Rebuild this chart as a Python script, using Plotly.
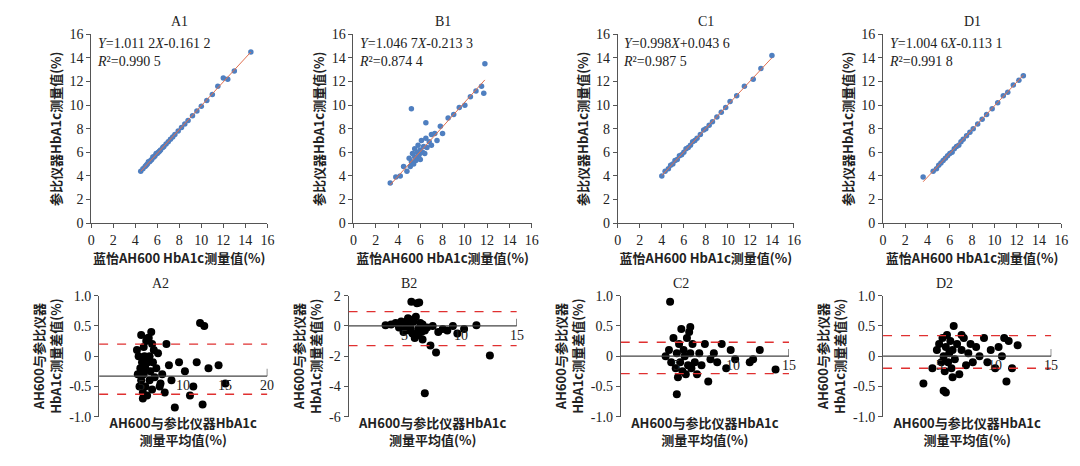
import plotly.graph_objects as go

# ---------------- data ----------------
titles_top = ["A1", "B1", "C1", "D1"]
titles_bot = ["A2", "B2", "C2", "D2"]
eq_text = ["<i>Y</i>=1.011 2<i>X</i>-0.161 2", "<i>Y</i>=1.046 7<i>X</i>-0.213 3",
           "<i>Y</i>=0.998<i>X</i>+0.043 6", "<i>Y</i>=1.004 6<i>X</i>-0.113 1"]
r2_text = ["<i>R</i>²=0.990 5", "<i>R</i>²=0.874 4", "<i>R</i>²=0.987 5", "<i>R</i>²=0.991 8"]
slopes = [1.0112, 1.0467, 0.998, 1.0046]
intercepts = [-0.1612, -0.2133, 0.0436, -0.1131]

a1_x = [4.5,4.7,4.9,5.0,5.1,5.2,5.3,5.4,5.5,5.6,5.7,5.8,5.9,6.0,6.1,6.2,6.3,6.5,6.6,6.8,7.0,7.2,7.4,7.6,7.9,8.2,8.5,8.8,9.2,9.6,10.0,10.5,11.0,11.5,12.0,12.4,13.0,14.5]
a1_y = [4.4,4.6,4.8,4.9,5.0,5.2,5.2,5.3,5.4,5.6,5.6,5.7,5.9,5.9,6.0,6.1,6.2,6.4,6.5,6.7,6.9,7.1,7.3,7.5,7.8,8.1,8.4,8.7,9.1,9.5,9.9,10.4,10.9,11.6,12.3,12.2,12.9,14.5]
b1_x = [3.3,3.8,4.2,4.5,4.8,5.0,5.1,5.2,5.3,5.4,5.5,5.5,5.6,5.7,5.8,5.8,5.9,6.0,6.0,6.1,6.2,6.3,6.4,6.5,6.6,6.8,7.0,7.0,7.3,7.5,7.8,8.0,8.5,9.0,9.5,10.0,10.5,11.0,11.5,11.8,5.2,6.5,11.7]
b1_y = [3.4,3.9,4.0,4.8,4.4,5.5,4.8,5.2,5.9,5.0,5.6,6.3,5.3,6.0,5.5,6.6,5.8,6.2,5.4,7.0,6.0,6.5,5.9,7.2,6.4,6.9,7.5,6.6,7.6,7.0,8.2,7.6,8.9,9.2,9.8,10.0,10.7,11.2,11.6,13.5,9.7,8.5,11.0]
c1_x = [4.0,4.3,4.6,4.8,5.0,5.2,5.4,5.6,5.8,6.0,6.2,6.4,6.6,6.8,7.0,7.2,7.5,7.8,8.0,8.3,8.6,9.0,9.4,9.8,10.2,10.8,11.5,12.3,13.0,14.0]
c1_y = [4.0,4.4,4.6,4.9,5.0,5.3,5.4,5.7,5.8,6.0,6.3,6.4,6.6,6.9,7.0,7.2,7.5,7.9,8.0,8.3,8.6,9.0,9.4,9.8,10.3,10.8,11.6,12.2,13.1,14.2]
d1_x = [3.6,4.5,4.8,5.0,5.2,5.4,5.6,5.8,6.0,6.2,6.4,6.6,6.8,7.0,7.2,7.5,7.8,8.1,8.5,8.9,9.3,9.8,10.3,10.8,11.2,11.7,12.2,12.6]
d1_y = [3.9,4.4,4.6,4.9,5.1,5.3,5.5,5.7,5.9,6.0,6.3,6.5,6.6,6.9,7.1,7.4,7.7,8.0,8.4,8.8,9.2,9.7,10.2,10.8,11.1,11.7,12.1,12.5]
top_x = [a1_x, b1_x, c1_x, d1_x]
top_y = [a1_y, b1_y, c1_y, d1_y]

a2_x = [4.5,4.6,4.7,4.8,4.9,5.0,5.0,5.1,5.2,5.3,5.3,5.4,5.5,5.5,5.6,5.7,5.8,5.9,6.0,6.0,6.1,6.2,6.3,6.4,6.5,6.6,6.8,7.0,7.2,7.5,7.8,8.0,8.3,8.6,9.0,9.5,10.2,10.8,11.2,11.6,12.0,12.3,12.5,13.0,14.2,15.0,5.2,5.8,6.3,7.3]
a2_y = [0.1,-0.3,0.0,-0.5,-0.2,0.35,-0.4,-0.1,-0.6,0.15,-0.3,0.0,-0.5,-0.2,0.25,-0.65,-0.1,0.3,-0.4,0.0,-0.25,0.4,-0.55,-0.1,0.1,-0.35,-0.2,0.05,-0.5,-0.3,-0.6,0.2,-0.15,-0.4,-0.85,-0.1,-0.25,-0.65,-0.5,-0.1,0.55,-0.8,0.5,-0.2,-0.15,-0.45,-0.7,0.3,0.2,-0.45]
b2_x = [3.3,3.8,4.2,4.5,4.7,4.9,5.0,5.1,5.2,5.3,5.4,5.5,5.6,5.7,5.8,5.9,6.0,6.1,6.2,6.3,6.4,6.5,6.6,6.8,7.0,7.3,7.5,7.8,8.0,8.4,8.8,9.3,9.7,10.3,11.4,12.6,6.8,5.6,6.2,6.6,5.2,5.5]
b2_y = [0.05,0.1,0.2,-0.1,0.3,-0.4,0.2,-0.2,0.1,0.5,-0.3,0.0,1.6,-0.5,0.3,-0.8,0.6,1.5,-0.2,1.55,0.2,-0.4,0.1,-0.3,-0.1,-1.3,0.0,-1.75,-0.4,-0.2,-0.3,0.0,-0.5,-0.2,0.05,-1.95,-4.45,0.4,-0.6,-0.9,0.0,-0.2]
c2_x = [4.0,4.3,4.5,4.7,4.9,5.0,5.1,5.2,5.3,5.4,5.5,5.6,5.7,5.8,5.9,6.0,6.1,6.2,6.3,6.4,6.6,6.8,7.0,7.2,7.5,7.8,8.0,8.3,8.6,9.0,9.4,9.8,10.2,11.5,11.8,12.4,13.8,4.4,5.0,6.2]
c2_y = [0.0,0.1,-0.1,0.3,-0.2,0.05,-0.35,0.2,-0.1,0.45,-0.25,0.1,0.0,-0.3,0.3,-0.15,0.4,0.05,-0.2,0.2,-0.1,-0.3,0.05,-0.15,0.2,-0.42,-0.05,0.05,-0.1,0.2,-0.2,0.1,-0.05,-0.1,-0.05,0.1,-0.22,0.9,-0.63,0.48]
d2_x = [3.6,4.4,4.8,5.0,5.2,5.3,5.4,5.5,5.6,5.7,5.8,5.9,6.0,6.1,6.2,6.3,6.4,6.6,6.8,7.0,7.2,7.4,7.6,7.8,8.0,8.3,8.6,9.0,9.3,9.6,10.0,10.3,10.6,10.8,11.0,11.2,11.5,12.0,5.4,5.6,6.2,7.0]
d2_y = [-0.45,-0.2,0.1,0.2,-0.1,0.3,0.0,-0.25,0.15,0.35,-0.1,0.05,0.25,-0.2,0.1,0.5,-0.05,0.2,-0.3,0.1,0.3,-0.15,0.05,0.2,-0.1,0.15,0.0,0.3,-0.1,0.1,-0.2,0.15,0.0,0.3,-0.42,0.25,-0.2,0.18,-0.57,-0.6,-0.35,0.35]
bot_x = [a2_x, b2_x, c2_x, d2_x]
bot_y = [a2_y, b2_y, c2_y, d2_y]
bot_mean = [-0.33, 0.0, 0.0, 0.0]
bot_upper = [0.2, 0.95, 0.23, 0.34]
bot_lower = [-0.63, -1.3, -0.29, -0.2]
bot_xmax = [20, 15, 15, 15]
bot_xticks = [[5, 10, 15, 20], [5, 10, 15], [5, 10, 15], [5, 10, 15]]
bot_yrange = [[-1, 1], [-6, 2], [-1, 1], [-1, 1]]
bot_ydtick = [0.5, 2, 0.5, 0.5]
bot_yticktext = [["-1.0", "-0.5", "0", "0.5", "1.0"], ["-6", "-4", "-2", "0", "2"],
                 ["-1.0", "-0.5", "0", "0.5", "1.0"], ["-1.0", "-0.5", "0", "0.5", "1.0"]]

# ---------------- layout ----------------
W, H = 1080, 466
top_px = [(80, 258), (345, 525), (612, 790), (880, 1060)]
bot_px = [(88, 258), (340, 510), (615, 785), (880, 1050)]
top_dom_y = [1 - 215 / H, 1 - 20 / H]
bot_dom_y = [1 - 415 / H, 1 - 290 / H]
tick_font = dict(family="Liberation Serif", size=14, color="#222")
cjk = dict(family="Noto Sans CJK SC", size=13, color="#222")
BLUE = "#4f7fc0"

fig = go.Figure()
layout = dict(width=W, height=H, margin=dict(l=0, r=0, t=0, b=0),
              paper_bgcolor="white", plot_bgcolor="white", showlegend=False)
annotations, shapes = [], []

for i in range(4):
    n = i + 1
    xa, ya = f"xaxis{n}", f"yaxis{n}"
    xr, yr = ("x" if n == 1 else f"x{n}"), ("y" if n == 1 else f"y{n}")
    fig.add_trace(go.Scatter(x=top_x[i], y=top_y[i], mode="markers", xaxis=xr, yaxis=yr,
                             marker=dict(color=BLUE, size=5.5)))
    lx = [min(top_x[i]), max(top_x[i])]
    fig.add_trace(go.Scatter(x=lx, y=[slopes[i] * v + intercepts[i] for v in lx], mode="lines",
                             xaxis=xr, yaxis=yr, line=dict(color="#e07050", width=1)))
    ax = dict(showline=True, linecolor="#555", ticks="outside", ticklen=4, tickcolor="#555",
              showgrid=False, zeroline=False, tickfont=tick_font, range=[0, 16], dtick=2)
    layout[xa] = dict(ax, domain=[top_px[i][0] / W, top_px[i][1] / W], anchor=yr,
                      title=dict(text="<b>蓝怡AH600 HbA1c测量值(%)</b>", font=cjk, standoff=6))
    layout[ya] = dict(ax, domain=top_dom_y, anchor=xr,
                      title=dict(text="<b>参比仪器HbA1c测量值(%)</b>", font=cjk, standoff=4))
    annotations.append(dict(text=titles_top[i], xref=f"{xr} domain", yref=f"{yr} domain", x=0.5, y=1.02,
                            yanchor="bottom", showarrow=False, font=tick_font))
    annotations.append(dict(text=eq_text[i] + "<br>" + r2_text[i], xref=f"{xr} domain", yref=f"{yr} domain",
                            x=0.02, y=1.0, xanchor="left", yanchor="top", align="left", showarrow=False,
                            font=dict(family="Liberation Serif", size=14, color="#222")))

for i in range(4):
    n = i + 5
    xa, ya = f"xaxis{n}", f"yaxis{n}"
    xr, yr = f"x{n}", f"y{n}"
    fig.add_trace(go.Scatter(x=bot_x[i], y=bot_y[i], mode="markers", xaxis=xr, yaxis=yr,
                             marker=dict(color="black", size=8)))
    layout[xa] = dict(domain=[bot_px[i][0] / W, bot_px[i][1] / W], anchor=yr, range=[0, bot_xmax[i]],
                      showline=False, showticklabels=False, ticks="", showgrid=False, zeroline=False,
                      title=dict(text="<b>AH600与参比仪器HbA1c<br>测量平均值(%)</b>", font=cjk, standoff=2))
    yt = [bot_yrange[i][0] + k * bot_ydtick[i] for k in range(len(bot_yticktext[i]))]
    layout[ya] = dict(domain=bot_dom_y, anchor=xr, range=bot_yrange[i], tickvals=yt,
                      ticktext=bot_yticktext[i], showline=True, linecolor="#555", ticks="outside",
                      ticklen=4, tickcolor="#555", showgrid=False, zeroline=False, tickfont=tick_font,
                      title=dict(text="<b>AH600与参比仪器<br>HbA1c测量差值(%)</b>", font=cjk, standoff=4))
    shapes.append(dict(type="line", xref=xr, yref=yr, x0=0, x1=bot_xmax[i], y0=bot_mean[i], y1=bot_mean[i],
                       line=dict(color="#444", width=1.2)))
    for v in (bot_upper[i], bot_lower[i]):
        shapes.append(dict(type="line", xref=xr, yref=yr, x0=0, x1=bot_xmax[i], y0=v, y1=v,
                           line=dict(color="#e03030", width=1.3, dash="dash")))
    for t in bot_xticks[i]:
        annotations.append(dict(text=str(t), xref=xr, yref=yr, x=t, y=bot_mean[i], yanchor="top",
                                showarrow=False, font=tick_font))
    shapes.append(dict(type="line", xref=xr, yref=yr, x0=bot_xmax[i], x1=bot_xmax[i], y0=bot_mean[i],
                       y1=bot_mean[i] + 0.06 * (bot_yrange[i][1] - bot_yrange[i][0]),
                       line=dict(color="#444", width=1.2)))
    annotations.append(dict(text=titles_bot[i], xref=f"{xr} domain", yref=f"{yr} domain", x=0.3, y=1.02,
                            yanchor="bottom", showarrow=False, font=tick_font))

layout["annotations"] = annotations
layout["shapes"] = shapes
fig.update_layout(**layout)
fig.write_html("out.html")
